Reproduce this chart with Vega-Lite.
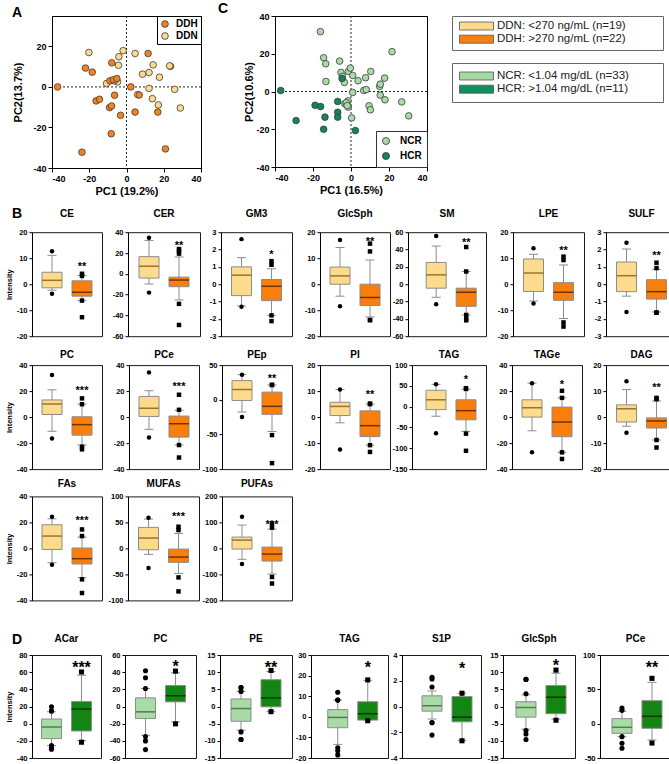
{
"$schema":"https://vega.github.io/schema/vega-lite/v6.json",
"background":"white",
"padding":{"left":3,"top":1,"right":0,"bottom":0},
"config":{
 "font":"Liberation Sans",
 "view":{"stroke":"#1a1a1a","strokeWidth":1},
 "axis":{"grid":false,"labelOverlap":false,"tickCount":20,"domainColor":"#000","tickColor":"#000","labelColor":"#000","titleColor":"#000","labelFontWeight":"bold","titleFontWeight":"bold","labelFontSize":7.5,"tickSize":3,"labelPadding":2,"domainWidth":1,"titleFontSize":7.5,"titlePadding":3},
 "title":{"fontSize":10,"fontWeight":"bold","color":"#000","offset":8},
 "legend":{"labelFont":"Liberation Sans"},
 "text":{"font":"Liberation Sans"}
},
"datasets":{
"sa":[
{"x":23.6,"y":10.2,"grp":"DDH"},
{"x":-20.2,"y":17.0,"grp":"DDN"},{"x":-1.8,"y":17.9,"grp":"DDN"},{"x":-4.1,"y":14.9,"grp":"DDN"},{"x":-4.3,"y":10.7,"grp":"DDN"},{"x":4.6,"y":16.5,"grp":"DDN"},{"x":-10.7,"y":1.7,"grp":"DDN"},{"x":-4.8,"y":2.5,"grp":"DDN"},{"x":8.6,"y":6.3,"grp":"DDN"},{"x":12.1,"y":7.1,"grp":"DDN"},{"x":14.3,"y":10.9,"grp":"DDN"},{"x":23.2,"y":10.4,"grp":"DDN"},{"x":17.7,"y":4.8,"grp":"DDN"},{"x":12.1,"y":-0.7,"grp":"DDN"},{"x":25.9,"y":-1.2,"grp":"DDN"},{"x":13.9,"y":-5.8,"grp":"DDN"},{"x":17.1,"y":-8.9,"grp":"DDN"},{"x":28.9,"y":-10.4,"grp":"DDN"},{"x":6.0,"y":-3.8,"grp":"DDN"},{"x":-6.5,"y":3.0,"grp":"DDN"},
{"x":-37,"y":0,"grp":"DDH"},{"x":-22,"y":9.3,"grp":"DDH"},{"x":-18.4,"y":7.3,"grp":"DDH"},{"x":-23.9,"y":-32.2,"grp":"DDH"},{"x":-16.3,"y":-6.9,"grp":"DDH"},{"x":-14.5,"y":-6.1,"grp":"DDH"},{"x":-7.9,"y":11.9,"grp":"DDH"},{"x":-8.9,"y":3.0,"grp":"DDH"},{"x":-7.1,"y":3.5,"grp":"DDH"},{"x":-5.2,"y":4.1,"grp":"DDH"},{"x":-6.4,"y":-4.1,"grp":"DDH"},{"x":-9.1,"y":-10.2,"grp":"DDH"},{"x":-8.0,"y":-9.4,"grp":"DDH"},{"x":-3.2,"y":-14.0,"grp":"DDH"},{"x":-8.2,"y":-23.1,"grp":"DDH"},{"x":2.3,"y":0,"grp":"DDH"},{"x":6.8,"y":-4.0,"grp":"DDH"},{"x":4.6,"y":-12.4,"grp":"DDH"},{"x":11.6,"y":16.5,"grp":"DDH"},{"x":16.8,"y":-12.4,"grp":"DDH"},{"x":20.9,"y":-30.6,"grp":"DDH"}
],
"sc":[
{"x":-16.1,"y":31.7,"grp":"NCR"},{"x":-14.4,"y":17.9,"grp":"NCR"},{"x":-13.3,"y":14.7,"grp":"NCR"},{"x":-13.2,"y":5.3,"grp":"NCR"},{"x":-6.0,"y":16.1,"grp":"NCR"},{"x":-5.3,"y":10.1,"grp":"NCR"},{"x":-3.5,"y":4.8,"grp":"NCR"},{"x":-1.4,"y":10.6,"grp":"NCR"},{"x":-0.35,"y":12.4,"grp":"NCR"},{"x":0.9,"y":8.5,"grp":"NCR"},{"x":3.7,"y":5.7,"grp":"NCR"},{"x":7.7,"y":7.3,"grp":"NCR"},{"x":10.4,"y":10.6,"grp":"NCR"},{"x":0.9,"y":-0.5,"grp":"NCR"},{"x":6.7,"y":0.5,"grp":"NCR"},{"x":-3.2,"y":-6.5,"grp":"NCR"},{"x":-1.6,"y":-5.0,"grp":"NCR"},{"x":-1.4,"y":-8.3,"grp":"NCR"},{"x":0.35,"y":-14.0,"grp":"NCR"},{"x":9.5,"y":-7.6,"grp":"NCR"},{"x":10.2,"y":-9.7,"grp":"NCR"},{"x":15.1,"y":2.7,"grp":"NCR"},{"x":15.4,"y":3.9,"grp":"NCR"},{"x":17.7,"y":7.1,"grp":"NCR"},{"x":15.4,"y":-1.9,"grp":"NCR"},{"x":17.9,"y":-4.4,"grp":"NCR"},{"x":21.6,"y":21.1,"grp":"NCR"},{"x":26.7,"y":-5.5,"grp":"NCR"},{"x":30.4,"y":-12.9,"grp":"NCR"},{"x":-2.5,"y":-6.0,"grp":"NCR"},{"x":-2.0,"y":-7.5,"grp":"NCR"},{"x":8.0,"y":1.0,"grp":"NCR"},{"x":-4.5,"y":8.0,"grp":"NCR"},
{"x":-37.0,"y":0.5,"grp":"HCR"},{"x":-28.9,"y":-15.4,"grp":"HCR"},{"x":-18.9,"y":-7.3,"grp":"HCR"},{"x":-16.0,"y":-8.0,"grp":"HCR"},{"x":-13.7,"y":-13.6,"grp":"HCR"},{"x":-14.4,"y":-20.0,"grp":"HCR"},{"x":-7.0,"y":-5.3,"grp":"HCR"},{"x":-7.0,"y":-11.0,"grp":"HCR"},{"x":-7.0,"y":-13.6,"grp":"HCR"},{"x":-4.7,"y":6.9,"grp":"HCR"},{"x":2.3,"y":-20.7,"grp":"HCR"}
],
"b":[
{"p":"CE","g":"N","lo":-2.3,"q1":-1.4,"md":1.5,"q3":4.6,"hi":11.1},
{"p":"CE","g":"H","lo":-6.3,"q1":-4.6,"md":-3.1,"q3":1.3,"hi":3.3,"s":"**","sy":8.1},
{"p":"CE","g":"N","v":12.7},{"p":"CE","g":"N","v":-3.7},{"p":"CE","g":"H","v":3.2},{"p":"CE","g":"H","v":4.0},{"p":"CE","g":"H","v":-6.3},{"p":"CE","g":"H","v":-12.7},
{"p":"CER","g":"N","lo":-9.8,"q1":-4.1,"md":7.3,"q3":16.5,"hi":32.1},
{"p":"CER","g":"H","lo":-25.1,"q1":-12.4,"md":-6.0,"q3":-3.2,"hi":16.2,"s":"**","sy":30.8},
{"p":"CER","g":"N","v":34.6},{"p":"CER","g":"N","v":-18.1},{"p":"CER","g":"H","v":23.8},{"p":"CER","g":"H","v":22.2},{"p":"CER","g":"H","v":19.4},{"p":"CER","g":"H","v":-28.9},{"p":"CER","g":"H","v":-49.2},
{"p":"GM3","g":"N","lo":-1.26,"q1":-0.66,"md":0.52,"q3":1.0,"hi":1.53},
{"p":"GM3","g":"H","lo":-1.8,"q1":-0.95,"md":-0.12,"q3":0.27,"hi":0.89,"s":"*","sy":1.93},
{"p":"GM3","g":"N","v":2.6},{"p":"GM3","g":"N","v":-1.3},{"p":"GM3","g":"H","v":1.33},{"p":"GM3","g":"H","v":1.12},{"p":"GM3","g":"H","v":-1.8},{"p":"GM3","g":"H","v":-2.13},
{"p":"GlcSph","g":"N","lo":-4.6,"q1":0,"md":3.2,"q3":6.6,"hi":14.1},
{"p":"GlcSph","g":"H","lo":-12.6,"q1":-8.2,"md":-5.1,"q3":0,"hi":9.3,"s":"**","sy":17.7},
{"p":"GlcSph","g":"N","v":17.0},{"p":"GlcSph","g":"N","v":-8.5},{"p":"GlcSph","g":"H","v":15.6},{"p":"GlcSph","g":"H","v":12.6},{"p":"GlcSph","g":"H","v":-13.8},{"p":"GlcSph","g":"H","v":-13.8},
{"p":"SM","g":"N","lo":-15.1,"q1":-4.6,"md":10.8,"q3":25.1,"hi":44.0},
{"p":"SM","g":"H","lo":-35.5,"q1":-25.5,"md":-9.3,"q3":-4.6,"hi":14.7,"s":"**","sy":52},
{"p":"SM","g":"N","v":55.6},{"p":"SM","g":"N","v":-23.2},{"p":"SM","g":"H","v":42.9},{"p":"SM","g":"H","v":14.7},{"p":"SM","g":"H","v":-35.5},{"p":"SM","g":"H","v":-39.8},{"p":"SM","g":"H","v":-41.7},
{"p":"LPE","g":"N","lo":-6.5,"q1":-2.8,"md":4.3,"q3":9.7,"hi":11.5},
{"p":"LPE","g":"H","lo":-13.2,"q1":-6.2,"md":-3.1,"q3":0.6,"hi":7.4,"s":"**","sy":14.3},
{"p":"LPE","g":"N","v":13.8},{"p":"LPE","g":"N","v":-7.4},{"p":"LPE","g":"H","v":10.6},{"p":"LPE","g":"H","v":9.3},{"p":"LPE","g":"H","v":-14.7},{"p":"LPE","g":"H","v":-16.3},
{"p":"SULF","g":"N","lo":-0.69,"q1":-0.43,"md":0.49,"q3":1.28,"hi":2.03},
{"p":"SULF","g":"H","lo":-1.6,"q1":-0.86,"md":-0.43,"q3":0.26,"hi":0.86,"s":"**","sy":1.87},
{"p":"SULF","g":"N","v":2.39},{"p":"SULF","g":"N","v":-1.6},{"p":"SULF","g":"H","v":1.24},{"p":"SULF","g":"H","v":0.93},{"p":"SULF","g":"H","v":-1.64},{"p":"SULF","g":"H","v":-1.64},
{"p":"PC","g":"N","lo":-10.9,"q1":2.0,"md":10.1,"q3":13.2,"hi":21.0},
{"p":"PC","g":"H","lo":-21.5,"q1":-13.9,"md":-5.8,"q3":0.25,"hi":9.9,"s":"***","sy":22.8},
{"p":"PC","g":"N","v":32.4},{"p":"PC","g":"N","v":-16.5},{"p":"PC","g":"H","v":14.4},{"p":"PC","g":"H","v":9.9},{"p":"PC","g":"H","v":-24.8},{"p":"PC","g":"H","v":-22.8},
{"p":"PCe","g":"N","lo":-9.4,"q1":0.5,"md":6.8,"q3":15.9,"hi":20.3},
{"p":"PCe","g":"H","lo":-21.5,"q1":-15.4,"md":-5.1,"q3":0.8,"hi":5.3,"s":"***","sy":26.6},
{"p":"PCe","g":"N","v":34.4},{"p":"PCe","g":"N","v":-15.7},{"p":"PCe","g":"H","v":17.2},{"p":"PCe","g":"H","v":5.6},{"p":"PCe","g":"H","v":-21.5},{"p":"PCe","g":"H","v":-31.1},
{"p":"PEp","g":"N","lo":-17.6,"q1":-1.0,"md":14.8,"q3":27.6,"hi":36.2},
{"p":"PEp","g":"H","lo":-45.7,"q1":-21.0,"md":-9.5,"q3":11.0,"hi":21.4,"s":"**","sy":36.2},
{"p":"PEp","g":"N","v":36.2},{"p":"PEp","g":"N","v":-24.8},{"p":"PEp","g":"H","v":21.4},{"p":"PEp","g":"H","v":21.4},{"p":"PEp","g":"H","v":-51},{"p":"PEp","g":"H","v":-91.4},
{"p":"PI","g":"N","lo":-2.2,"q1":0.6,"md":4.1,"q3":5.7,"hi":10.6},
{"p":"PI","g":"H","lo":-10.8,"q1":-7.5,"md":-3.3,"q3":2.4,"hi":5.0,"s":"**","sy":10.1},
{"p":"PI","g":"N","v":10.6},{"p":"PI","g":"N","v":-12.5},{"p":"PI","g":"H","v":5.0},{"p":"PI","g":"H","v":5.2},{"p":"PI","g":"H","v":-10.8},{"p":"PI","g":"H","v":-13.4},
{"p":"TAG","g":"N","lo":-22.9,"q1":-7.1,"md":16.6,"q3":39.5,"hi":53.8},
{"p":"TAG","g":"H","lo":-59.3,"q1":-31.6,"md":-9.5,"q3":16.6,"hi":41.9,"s":"*","sy":72.7},
{"p":"TAG","g":"N","v":53.8},{"p":"TAG","g":"N","v":-64},{"p":"TAG","g":"H","v":42.7},{"p":"TAG","g":"H","v":44.3},{"p":"TAG","g":"H","v":-64.8},{"p":"TAG","g":"H","v":-106},
{"p":"TAGe","g":"N","lo":-10.5,"q1":0,"md":7.2,"q3":13.3,"hi":26.1},
{"p":"TAGe","g":"H","lo":-27.1,"q1":-15.1,"md":-3.8,"q3":7.7,"hi":14.8,"s":"*","sy":27.9},
{"p":"TAGe","g":"N","v":26.1},{"p":"TAGe","g":"N","v":-27.1},{"p":"TAGe","g":"H","v":20.2},{"p":"TAGe","g":"H","v":14.8},{"p":"TAGe","g":"H","v":-27.1},{"p":"TAGe","g":"H","v":-32.2},
{"p":"DAG","g":"N","lo":-3.5,"q1":-1.9,"md":3.2,"q3":4.7,"hi":10.6},
{"p":"DAG","g":"H","lo":-8.8,"q1":-4.2,"md":-1.5,"q3":-0.3,"hi":6.2,"s":"**","sy":12.6},
{"p":"DAG","g":"N","v":13.8},{"p":"DAG","g":"N","v":-6.0},{"p":"DAG","g":"H","v":7.4},{"p":"DAG","g":"H","v":6.9},{"p":"DAG","g":"H","v":-8.8},{"p":"DAG","g":"H","v":-11.7},
{"p":"FAs","g":"N","lo":-11.0,"q1":-0.8,"md":9.5,"q3":18.2,"hi":22.8},
{"p":"FAs","g":"H","lo":-22.5,"q1":-12.0,"md":-7.9,"q3":0.3,"hi":8.7,"s":"***","sy":23.8},
{"p":"FAs","g":"N","v":24.3},{"p":"FAs","g":"N","v":-12.5},{"p":"FAs","g":"H","v":14.6},{"p":"FAs","g":"H","v":9.5},{"p":"FAs","g":"H","v":-23.8},{"p":"FAs","g":"H","v":-34.3},
{"p":"MUFAs","g":"N","lo":-11.5,"q1":-2.6,"md":19.9,"q3":40.4,"hi":56.4},
{"p":"MUFAs","g":"H","lo":-48.1,"q1":-26.9,"md":-16.7,"q3":-1.3,"hi":28.8,"s":"***","sy":67.3},
{"p":"MUFAs","g":"N","v":59},{"p":"MUFAs","g":"N","v":-37.8},{"p":"MUFAs","g":"H","v":41.7},{"p":"MUFAs","g":"H","v":35.3},{"p":"MUFAs","g":"H","v":-55.8},{"p":"MUFAs","g":"H","v":-82.7},
{"p":"PUFAs","g":"N","lo":-42,"q1":-2.6,"md":32,"q3":43.6,"hi":89.7},
{"p":"PUFAs","g":"H","lo":-98.7,"q1":-48.7,"md":-21.8,"q3":5,"hi":74,"s":"***","sy":105},
{"p":"PUFAs","g":"N","v":121.8},{"p":"PUFAs","g":"N","v":-60},{"p":"PUFAs","g":"H","v":95},{"p":"PUFAs","g":"H","v":80},{"p":"PUFAs","g":"H","v":-110},{"p":"PUFAs","g":"H","v":-135}
],
"d":[
{"p":"ACar","g":"N","lo":-25.5,"q1":-17.4,"md":-3.9,"q3":5.4,"hi":13.9},
{"p":"ACar","g":"H","lo":-19.7,"q1":-8.5,"md":17.0,"q3":25.9,"hi":56.4,"s":"***","sy":72},
{"p":"ACar","g":"N","v":19.7},{"p":"ACar","g":"N","v":14.7},{"p":"ACar","g":"N","v":14.7},{"p":"ACar","g":"N","v":-25.5},{"p":"ACar","g":"N","v":-29.7},{"p":"ACar","g":"N","v":-27.8},{"p":"ACar","g":"H","v":60.2},{"p":"ACar","g":"H","v":-21.6},
{"p":"PC","g":"N","lo":-33.5,"q1":-14.0,"md":-6.2,"q3":10.1,"hi":21.0},
{"p":"PC","g":"H","lo":-17.9,"q1":5.4,"md":12.5,"q3":24.5,"hi":39.3,"s":"*","sy":52.9},
{"p":"PC","g":"N","v":41.6},{"p":"PC","g":"N","v":33.5},{"p":"PC","g":"N","v":21.0},{"p":"PC","g":"N","v":-35.0},{"p":"PC","g":"N","v":-40.1},{"p":"PC","g":"N","v":-50.2},{"p":"PC","g":"H","v":41.2},{"p":"PC","g":"H","v":-20.2},
{"p":"PE","g":"N","lo":-6.9,"q1":-4.3,"md":-0.6,"q3":2.2,"hi":4.4},
{"p":"PE","g":"H","lo":-1.5,"q1":-0.1,"md":2.5,"q3":7.8,"hi":10.2,"s":"**","sy":13},
{"p":"PE","g":"N","v":5.5},{"p":"PE","g":"N","v":5.5},{"p":"PE","g":"N","v":4.4},{"p":"PE","g":"N","v":-7.4},{"p":"PE","g":"N","v":-9.6},{"p":"PE","g":"N","v":-9.6},{"p":"PE","g":"H","v":10.5},{"p":"PE","g":"H","v":-1.5},
{"p":"TAG","g":"N","lo":-13.4,"q1":-5.3,"md":-0.3,"q3":3.5,"hi":8.1},
{"p":"TAG","g":"H","lo":-1.6,"q1":-1.6,"md":1.5,"q3":7.3,"hi":17.7,"s":"*","sy":26.6},
{"p":"TAG","g":"N","v":11.9},{"p":"TAG","g":"N","v":8.1},{"p":"TAG","g":"N","v":8.1},{"p":"TAG","g":"N","v":-15},{"p":"TAG","g":"N","v":-16.5},{"p":"TAG","g":"N","v":-18.5},{"p":"TAG","g":"H","v":17.9},{"p":"TAG","g":"H","v":-1.9},
{"p":"S1P","g":"N","lo":-0.98,"q1":-0.36,"md":0.05,"q3":0.83,"hi":1.21},
{"p":"S1P","g":"H","lo":-2.63,"q1":-1.19,"md":-0.83,"q3":0.77,"hi":1.03,"s":"*","sy":3.4},
{"p":"S1P","g":"N","v":2.27},{"p":"S1P","g":"N","v":2.14},{"p":"S1P","g":"N","v":1.52},{"p":"S1P","g":"N","v":-1.24},{"p":"S1P","g":"N","v":-1.26},{"p":"S1P","g":"N","v":-2.22},{"p":"S1P","g":"H","v":1.03},{"p":"S1P","g":"H","v":-2.66},
{"p":"GlcSph","g":"N","lo":-6.6,"q1":-3.1,"md":-0.3,"q3":1.4,"hi":3.4},
{"p":"GlcSph","g":"H","lo":-3.7,"q1":-2.1,"md":2.7,"q3":6.1,"hi":9.7,"s":"*","sy":13.4},
{"p":"GlcSph","g":"N","v":7.9},{"p":"GlcSph","g":"N","v":7.9},{"p":"GlcSph","g":"N","v":3.7},{"p":"GlcSph","g":"N","v":-7.0},{"p":"GlcSph","g":"N","v":-8.0},{"p":"GlcSph","g":"N","v":-9.6},{"p":"GlcSph","g":"H","v":10.6},{"p":"GlcSph","g":"H","v":-4.0},
{"p":"PCe","g":"N","lo":-18.9,"q1":-14.1,"md":-5.3,"q3":7.3,"hi":18.0},
{"p":"PCe","g":"H","lo":-23.8,"q1":-6.8,"md":10.7,"q3":33.5,"hi":60.2,"s":"**","sy":90.3},
{"p":"PCe","g":"N","v":22.8},{"p":"PCe","g":"N","v":19.4},{"p":"PCe","g":"N","v":-18.9},{"p":"PCe","g":"N","v":-28.6},{"p":"PCe","g":"N","v":-35.9},{"p":"PCe","g":"H","v":66.0},{"p":"PCe","g":"H","v":-28.2}
]
},
"spacing":27,
"resolve":{"scale":{"color":"independent","fill":"independent","shape":"independent"},"legend":{"color":"independent","fill":"independent","shape":"independent"}},
"vconcat":[
{"spacing":10.2,"resolve":{"scale":{"color":"independent","fill":"independent","shape":"independent"},"legend":{"color":"independent","fill":"independent","shape":"independent"}},
"vconcat":[
{"spacing":0,"resolve":{"scale":{"color":"independent","fill":"independent","shape":"independent"},"legend":{"color":"independent","fill":"independent","shape":"independent"}},
"hconcat":[
{"width":8,"height":1,"view":{"stroke":null},"data":{"values":[{}]},"transform":[{"filter":"false"}],"mark":{"type":"point","opacity":0}},
{"spacing":15,"resolve":{"scale":{"color":"independent","fill":"independent","shape":"independent"},"legend":{"color":"independent","fill":"independent","shape":"independent"}},
"hconcat":[
{"width":149,"height":152,"view":{"stroke":"#000"},
"title":{"text":"A","anchor":"start","frame":"bounds","fontSize":14,"offset":-4},
"layer":[
{"data":{"values":[{}]},"mark":{"type":"rule","strokeDash":[2,2],"color":"#222","strokeWidth":1},"encoding":{"y":{"datum":0}}},
{"data":{"values":[{}]},"mark":{"type":"rule","strokeDash":[2,2],"color":"#222","strokeWidth":1},"encoding":{"x":{"datum":0}}},
{"data":{"name":"sa"},"mark":{"type":"point","filled":true,"size":44,"stroke":"#3a3a3a","strokeWidth":0.8,"opacity":1},
"encoding":{
"x":{"field":"x","type":"quantitative","scale":{"domain":[-40,40],"nice":false,"zero":false},"axis":{"title":"PC1 (19.2%)","values":[-40,-20,0,20,40],"tickCount":20,"labelExpr":"'' + datum.value","labelOverlap":false,"labelFontSize":9,"titleFontSize":11,"tickSize":4,"titlePadding":2,"labelPadding":2}},
"y":{"field":"y","type":"quantitative","scale":{"domain":[-40,35],"nice":false,"zero":false},"axis":{"title":"PC2(13.7%)","values":[-40,-20,0,20],"tickCount":20,"labelExpr":"'' + datum.value","labelOverlap":false,"labelFontSize":9,"titleFontSize":11,"tickSize":4,"labelPadding":2,"minExtent":19,"maxExtent":19,"titlePadding":10}},
"fill":{"field":"grp","type":"nominal","scale":{"domain":["DDH","DDN"],"range":["#F5821F","#FDDB8A"]},
"legend":{"orient":"top-right","offset":0,"title":null,"strokeColor":"#000","padding":3,"rowPadding":2,"symbolType":"circle","symbolSize":45,"symbolStrokeColor":"#333","symbolStrokeWidth":0.8,"symbolOpacity":1,"labelFontSize":10,"labelFontWeight":"bold","labelOffset":6,"labelColor":"#000"}}}}
]},
{"spacing":23,"resolve":{"scale":{"color":"independent","fill":"independent","shape":"independent"},"legend":{"color":"independent","fill":"independent","shape":"independent"}},
"hconcat":[
{"width":152,"height":151,"view":{"stroke":"#000"},
"title":{"text":"C","anchor":"start","frame":"bounds","fontSize":14,"offset":-4,"dx":-25},
"layer":[
{"data":{"values":[{}]},"mark":{"type":"rule","strokeDash":[2,2],"color":"#222","strokeWidth":1},"encoding":{"y":{"datum":0}}},
{"data":{"values":[{}]},"mark":{"type":"rule","strokeDash":[2,2],"color":"#222","strokeWidth":1},"encoding":{"x":{"datum":0}}},
{"data":{"name":"sc"},"mark":{"type":"point","filled":true,"size":44,"stroke":"#3a3a3a","strokeWidth":0.8,"opacity":1},
"encoding":{
"x":{"field":"x","type":"quantitative","scale":{"domain":[-40,40],"nice":false,"zero":false},"axis":{"title":"PC1 (16.5%)","values":[-40,-20,0,20,40],"tickCount":20,"labelExpr":"'' + datum.value","labelOverlap":false,"labelFontSize":9,"titleFontSize":11,"tickSize":4,"titlePadding":2,"labelPadding":2}},
"y":{"field":"y","type":"quantitative","scale":{"domain":[-40,40],"nice":false,"zero":false},"axis":{"title":"PC2(10.6%)","values":[-40,-20,0,20,40],"tickCount":20,"labelExpr":"'' + datum.value","labelOverlap":false,"labelFontSize":9,"titleFontSize":11,"tickSize":4,"labelPadding":2,"minExtent":19,"maxExtent":19,"titlePadding":2}},
"fill":{"field":"grp","type":"nominal","scale":{"domain":["NCR","HCR"],"range":["#A8DBA6","#10865A"]},
"legend":{"orient":"bottom-right","offset":0,"title":null,"strokeColor":"#333","padding":5,"rowPadding":3,"symbolType":"circle","symbolSize":50,"symbolStrokeColor":"#333","symbolStrokeWidth":0.8,"symbolOpacity":1,"labelFontSize":10,"labelFontWeight":"bold","labelOffset":9,"labelColor":"#000"}}}}
]},
{"spacing":11,"resolve":{"scale":{"color":"independent","fill":"independent","shape":"independent"},"legend":{"color":"independent","fill":"independent","shape":"independent"}},
"vconcat":[
{"width":211,"height":34,"view":{"stroke":"#666","strokeWidth":1},
"data":{"values":[{"k1":"a"}]},"transform":[{"filter":"false"}],
"mark":{"type":"point","filled":true,"opacity":1},
"encoding":{"fill":{"field":"k1","type":"nominal","scale":{"domain":["DDN: <270 ng/mL (n=19)","DDH: >270 ng/mL (n=22)"],"range":["#FDDB8A","#F98010"]},
"legend":{"orient":"none","legendX":7,"legendY":4,"title":null,"symbolType":"M-1,-0.727H5.18V0.727H-1Z","symbolSize":121,"symbolStrokeColor":"#555","symbolStrokeWidth":0.8,"symbolOpacity":1,"labelFontSize":11.5,"labelColor":"#222","labelLimit":400,"labelOffset":26,"padding":0,"rowPadding":1.2}}}},
{"width":211,"height":39,"view":{"stroke":"#666","strokeWidth":1},
"data":{"values":[{"k2":"b"}]},"transform":[{"filter":"false"}],
"mark":{"type":"point","filled":true,"opacity":1},
"encoding":{"fill":{"field":"k2","type":"nominal","scale":{"domain":["NCR: <1.04 mg/dL (n=33)","HCR: >1.04 mg/dL (n=11)"],"range":["#A6D9A4","#11905E"]},
"legend":{"orient":"none","legendX":7,"legendY":7,"title":null,"symbolType":"M-1,-0.727H5.18V0.727H-1Z","symbolSize":121,"symbolStrokeColor":"#555","symbolStrokeWidth":0.8,"symbolOpacity":1,"labelFontSize":11.5,"labelColor":"#222","labelLimit":400,"labelOffset":26,"padding":0,"rowPadding":1.2}}}}
]}
]}
]}
]},
{"spacing":8.9,"resolve":{"scale":{"color":"independent","fill":"independent","shape":"independent"},"legend":{"color":"independent","fill":"independent","shape":"independent"}},
"vconcat":[
{"spacing":0,"title":{"text":"B","anchor":"start","frame":"bounds","fontSize":14,"offset":-13,"dx":9},
"hconcat":[
{"width":1,"height":1,"view":{"stroke":null},"data":{"values":[{}]},"transform":[{"filter":"false"}],"mark":{"type":"point","opacity":0}},
{"width":70,"height":104,"title":{"text":"CE","offset":9.5},"data":{"name":"b"},"transform":[{"filter":"datum.p==='CE'"}],"encoding":{"x":{"field":"g","type":"nominal","sort":["N","H"],"axis":null,"scale":{"paddingInner":0.3333,"paddingOuter":0.3333,"align":0.5}}},"layer":[
{"transform":[{"filter":"datum.lo!=null"}],"layer":[
{"mark":{"type":"rule","color":"#8c8c8c"},"encoding":{"y":{"field":"lo","type":"quantitative","scale":{"domain":[-20,20],"nice":false,"zero":false},"axis":{"title":"Intensity","values":[-20,-10,0,10,20],"tickCount":20,"labelExpr":"'' + datum.value","labelOverlap":false,"minExtent":16,"maxExtent":16}},"y2":{"field":"hi"}}},
{"mark":{"type":"tick","color":"#8c8c8c","size":9,"opacity":1},"encoding":{"y":{"field":"lo","type":"quantitative"}}},
{"mark":{"type":"tick","color":"#8c8c8c","size":9,"opacity":1},"encoding":{"y":{"field":"hi","type":"quantitative"}}},
{"mark":{"type":"bar","stroke":"#8c8c8c","strokeWidth":1},"encoding":{"y":{"field":"q1","type":"quantitative"},"y2":{"field":"q3"},"fill":{"field":"g","type":"nominal","scale":{"domain":["N","H"],"range":["#FDDB8C","#FA7E0B"]},"legend":null}}},
{"mark":{"type":"tick","size":20,"thickness":1.5,"opacity":1},"encoding":{"y":{"field":"md","type":"quantitative"},"color":{"field":"g","type":"nominal","scale":{"domain":["N","H"],"range":["#9A7530","#6E3503"]},"legend":null}}}]},
{"transform":[{"filter":"datum.v!=null"}],"mark":{"type":"point","filled":true,"size":20,"color":"#000","opacity":1},"encoding":{"y":{"field":"v","type":"quantitative"},"shape":{"field":"g","type":"nominal","scale":{"domain":["N","H"],"range":["circle","square"]},"legend":null}}},
{"transform":[{"filter":"datum.s!=null"}],"mark":{"type":"text","fontSize":11,"fontWeight":"bold","dy":4},"encoding":{"y":{"field":"sy","type":"quantitative"},"text":{"field":"s"}}}]},
{"width":72,"height":104,"title":{"text":"CER","offset":9.5},"data":{"name":"b"},"transform":[{"filter":"datum.p==='CER'"}],"encoding":{"x":{"field":"g","type":"nominal","sort":["N","H"],"axis":null,"scale":{"paddingInner":0.3333,"paddingOuter":0.3667,"align":0.5}}},"layer":[
{"transform":[{"filter":"datum.lo!=null"}],"layer":[
{"mark":{"type":"rule","color":"#8c8c8c"},"encoding":{"y":{"field":"lo","type":"quantitative","scale":{"domain":[-60,40],"nice":false,"zero":false},"axis":{"title":null,"values":[-60,-40,-20,0,20,40],"tickCount":20,"labelExpr":"'' + datum.value","labelOverlap":false,"minExtent":24}},"y2":{"field":"hi"}}},
{"mark":{"type":"tick","color":"#8c8c8c","size":9,"opacity":1},"encoding":{"y":{"field":"lo","type":"quantitative"}}},
{"mark":{"type":"tick","color":"#8c8c8c","size":9,"opacity":1},"encoding":{"y":{"field":"hi","type":"quantitative"}}},
{"mark":{"type":"bar","stroke":"#8c8c8c","strokeWidth":1},"encoding":{"y":{"field":"q1","type":"quantitative"},"y2":{"field":"q3"},"fill":{"field":"g","type":"nominal","scale":{"domain":["N","H"],"range":["#FDDB8C","#FA7E0B"]},"legend":null}}},
{"mark":{"type":"tick","size":20,"thickness":1.5,"opacity":1},"encoding":{"y":{"field":"md","type":"quantitative"},"color":{"field":"g","type":"nominal","scale":{"domain":["N","H"],"range":["#9A7530","#6E3503"]},"legend":null}}}]},
{"transform":[{"filter":"datum.v!=null"}],"mark":{"type":"point","filled":true,"size":20,"color":"#000","opacity":1},"encoding":{"y":{"field":"v","type":"quantitative"},"shape":{"field":"g","type":"nominal","scale":{"domain":["N","H"],"range":["circle","square"]},"legend":null}}},
{"transform":[{"filter":"datum.s!=null"}],"mark":{"type":"text","fontSize":11,"fontWeight":"bold","dy":4},"encoding":{"y":{"field":"sy","type":"quantitative"},"text":{"field":"s"}}}]},
{"width":71,"height":104,"title":{"text":"GM3","offset":9.5},"data":{"name":"b"},"transform":[{"filter":"datum.p==='GM3'"}],"encoding":{"x":{"field":"g","type":"nominal","sort":["N","H"],"axis":null,"scale":{"paddingInner":0.3333,"paddingOuter":0.35,"align":0.5}}},"layer":[
{"transform":[{"filter":"datum.lo!=null"}],"layer":[
{"mark":{"type":"rule","color":"#8c8c8c"},"encoding":{"y":{"field":"lo","type":"quantitative","scale":{"domain":[-3,3],"nice":false,"zero":false},"axis":{"title":null,"values":[-3,-2,-1,0,1,2,3],"tickCount":20,"labelExpr":"'' + datum.value","labelOverlap":false,"minExtent":19}},"y2":{"field":"hi"}}},
{"mark":{"type":"tick","color":"#8c8c8c","size":9,"opacity":1},"encoding":{"y":{"field":"lo","type":"quantitative"}}},
{"mark":{"type":"tick","color":"#8c8c8c","size":9,"opacity":1},"encoding":{"y":{"field":"hi","type":"quantitative"}}},
{"mark":{"type":"bar","stroke":"#8c8c8c","strokeWidth":1},"encoding":{"y":{"field":"q1","type":"quantitative"},"y2":{"field":"q3"},"fill":{"field":"g","type":"nominal","scale":{"domain":["N","H"],"range":["#FDDB8C","#FA7E0B"]},"legend":null}}},
{"mark":{"type":"tick","size":20,"thickness":1.5,"opacity":1},"encoding":{"y":{"field":"md","type":"quantitative"},"color":{"field":"g","type":"nominal","scale":{"domain":["N","H"],"range":["#9A7530","#6E3503"]},"legend":null}}}]},
{"transform":[{"filter":"datum.v!=null"}],"mark":{"type":"point","filled":true,"size":20,"color":"#000","opacity":1},"encoding":{"y":{"field":"v","type":"quantitative"},"shape":{"field":"g","type":"nominal","scale":{"domain":["N","H"],"range":["circle","square"]},"legend":null}}},
{"transform":[{"filter":"datum.s!=null"}],"mark":{"type":"text","fontSize":11,"fontWeight":"bold","dy":4},"encoding":{"y":{"field":"sy","type":"quantitative"},"text":{"field":"s"}}}]},
{"width":70,"height":104,"title":{"text":"GlcSph","offset":9.5},"data":{"name":"b"},"transform":[{"filter":"datum.p==='GlcSph'"}],"encoding":{"x":{"field":"g","type":"nominal","sort":["N","H"],"axis":null,"scale":{"paddingInner":0.3333,"paddingOuter":0.3333,"align":0.5}}},"layer":[
{"transform":[{"filter":"datum.lo!=null"}],"layer":[
{"mark":{"type":"rule","color":"#8c8c8c"},"encoding":{"y":{"field":"lo","type":"quantitative","scale":{"domain":[-20,20],"nice":false,"zero":false},"axis":{"title":null,"values":[-20,-10,0,10,20],"tickCount":20,"labelExpr":"'' + datum.value","labelOverlap":false,"minExtent":26}},"y2":{"field":"hi"}}},
{"mark":{"type":"tick","color":"#8c8c8c","size":9,"opacity":1},"encoding":{"y":{"field":"lo","type":"quantitative"}}},
{"mark":{"type":"tick","color":"#8c8c8c","size":9,"opacity":1},"encoding":{"y":{"field":"hi","type":"quantitative"}}},
{"mark":{"type":"bar","stroke":"#8c8c8c","strokeWidth":1},"encoding":{"y":{"field":"q1","type":"quantitative"},"y2":{"field":"q3"},"fill":{"field":"g","type":"nominal","scale":{"domain":["N","H"],"range":["#FDDB8C","#FA7E0B"]},"legend":null}}},
{"mark":{"type":"tick","size":20,"thickness":1.5,"opacity":1},"encoding":{"y":{"field":"md","type":"quantitative"},"color":{"field":"g","type":"nominal","scale":{"domain":["N","H"],"range":["#9A7530","#6E3503"]},"legend":null}}}]},
{"transform":[{"filter":"datum.v!=null"}],"mark":{"type":"point","filled":true,"size":20,"color":"#000","opacity":1},"encoding":{"y":{"field":"v","type":"quantitative"},"shape":{"field":"g","type":"nominal","scale":{"domain":["N","H"],"range":["circle","square"]},"legend":null}}},
{"transform":[{"filter":"datum.s!=null"}],"mark":{"type":"text","fontSize":11,"fontWeight":"bold","dy":4},"encoding":{"y":{"field":"sy","type":"quantitative"},"text":{"field":"s"}}}]},
{"width":78,"height":104,"title":{"text":"SM","offset":9.5},"data":{"name":"b"},"transform":[{"filter":"datum.p==='SM'"}],"encoding":{"x":{"field":"g","type":"nominal","sort":["N","H"],"axis":null,"scale":{"paddingInner":0.3333,"paddingOuter":0.4667,"align":0.65}}},"layer":[
{"transform":[{"filter":"datum.lo!=null"}],"layer":[
{"mark":{"type":"rule","color":"#8c8c8c"},"encoding":{"y":{"field":"lo","type":"quantitative","scale":{"domain":[-60,60],"nice":false,"zero":false},"axis":{"title":null,"values":[-60,-40,-20,0,20,40,60],"tickCount":20,"labelExpr":"'' + datum.value","labelOverlap":false,"minExtent":13}},"y2":{"field":"hi"}}},
{"mark":{"type":"tick","color":"#8c8c8c","size":9,"opacity":1},"encoding":{"y":{"field":"lo","type":"quantitative"}}},
{"mark":{"type":"tick","color":"#8c8c8c","size":9,"opacity":1},"encoding":{"y":{"field":"hi","type":"quantitative"}}},
{"mark":{"type":"bar","stroke":"#8c8c8c","strokeWidth":1},"encoding":{"y":{"field":"q1","type":"quantitative"},"y2":{"field":"q3"},"fill":{"field":"g","type":"nominal","scale":{"domain":["N","H"],"range":["#FDDB8C","#FA7E0B"]},"legend":null}}},
{"mark":{"type":"tick","size":20,"thickness":1.5,"opacity":1},"encoding":{"y":{"field":"md","type":"quantitative"},"color":{"field":"g","type":"nominal","scale":{"domain":["N","H"],"range":["#9A7530","#6E3503"]},"legend":null}}}]},
{"transform":[{"filter":"datum.v!=null"}],"mark":{"type":"point","filled":true,"size":20,"color":"#000","opacity":1},"encoding":{"y":{"field":"v","type":"quantitative"},"shape":{"field":"g","type":"nominal","scale":{"domain":["N","H"],"range":["circle","square"]},"legend":null}}},
{"transform":[{"filter":"datum.s!=null"}],"mark":{"type":"text","fontSize":11,"fontWeight":"bold","dy":4},"encoding":{"y":{"field":"sy","type":"quantitative"},"text":{"field":"s"}}}]},
{"width":71,"height":104,"title":{"text":"LPE","offset":9.5},"data":{"name":"b"},"transform":[{"filter":"datum.p==='LPE'"}],"encoding":{"x":{"field":"g","type":"nominal","sort":["N","H"],"axis":null,"scale":{"paddingInner":0.3333,"paddingOuter":0.35,"align":0.5}}},"layer":[
{"transform":[{"filter":"datum.lo!=null"}],"layer":[
{"mark":{"type":"rule","color":"#8c8c8c"},"encoding":{"y":{"field":"lo","type":"quantitative","scale":{"domain":[-20,20],"nice":false,"zero":false},"axis":{"title":null,"values":[-20,-10,0,10,20],"tickCount":20,"labelExpr":"'' + datum.value","labelOverlap":false,"minExtent":25}},"y2":{"field":"hi"}}},
{"mark":{"type":"tick","color":"#8c8c8c","size":9,"opacity":1},"encoding":{"y":{"field":"lo","type":"quantitative"}}},
{"mark":{"type":"tick","color":"#8c8c8c","size":9,"opacity":1},"encoding":{"y":{"field":"hi","type":"quantitative"}}},
{"mark":{"type":"bar","stroke":"#8c8c8c","strokeWidth":1},"encoding":{"y":{"field":"q1","type":"quantitative"},"y2":{"field":"q3"},"fill":{"field":"g","type":"nominal","scale":{"domain":["N","H"],"range":["#FDDB8C","#FA7E0B"]},"legend":null}}},
{"mark":{"type":"tick","size":20,"thickness":1.5,"opacity":1},"encoding":{"y":{"field":"md","type":"quantitative"},"color":{"field":"g","type":"nominal","scale":{"domain":["N","H"],"range":["#9A7530","#6E3503"]},"legend":null}}}]},
{"transform":[{"filter":"datum.v!=null"}],"mark":{"type":"point","filled":true,"size":20,"color":"#000","opacity":1},"encoding":{"y":{"field":"v","type":"quantitative"},"shape":{"field":"g","type":"nominal","scale":{"domain":["N","H"],"range":["circle","square"]},"legend":null}}},
{"transform":[{"filter":"datum.s!=null"}],"mark":{"type":"text","fontSize":11,"fontWeight":"bold","dy":4},"encoding":{"y":{"field":"sy","type":"quantitative"},"text":{"field":"s"}}}]},
{"width":71,"height":104,"title":{"text":"SULF","offset":9.5},"data":{"name":"b"},"transform":[{"filter":"datum.p==='SULF'"}],"encoding":{"x":{"field":"g","type":"nominal","sort":["N","H"],"axis":null,"scale":{"paddingInner":0.3333,"paddingOuter":0.35,"align":0.5}}},"layer":[
{"transform":[{"filter":"datum.lo!=null"}],"layer":[
{"mark":{"type":"rule","color":"#8c8c8c"},"encoding":{"y":{"field":"lo","type":"quantitative","scale":{"domain":[-3,3],"nice":false,"zero":false},"axis":{"title":null,"values":[-3,-2,-1,0,1,2,3],"tickCount":20,"labelExpr":"'' + datum.value","labelOverlap":false,"minExtent":20}},"y2":{"field":"hi"}}},
{"mark":{"type":"tick","color":"#8c8c8c","size":9,"opacity":1},"encoding":{"y":{"field":"lo","type":"quantitative"}}},
{"mark":{"type":"tick","color":"#8c8c8c","size":9,"opacity":1},"encoding":{"y":{"field":"hi","type":"quantitative"}}},
{"mark":{"type":"bar","stroke":"#8c8c8c","strokeWidth":1},"encoding":{"y":{"field":"q1","type":"quantitative"},"y2":{"field":"q3"},"fill":{"field":"g","type":"nominal","scale":{"domain":["N","H"],"range":["#FDDB8C","#FA7E0B"]},"legend":null}}},
{"mark":{"type":"tick","size":20,"thickness":1.5,"opacity":1},"encoding":{"y":{"field":"md","type":"quantitative"},"color":{"field":"g","type":"nominal","scale":{"domain":["N","H"],"range":["#9A7530","#6E3503"]},"legend":null}}}]},
{"transform":[{"filter":"datum.v!=null"}],"mark":{"type":"point","filled":true,"size":20,"color":"#000","opacity":1},"encoding":{"y":{"field":"v","type":"quantitative"},"shape":{"field":"g","type":"nominal","scale":{"domain":["N","H"],"range":["circle","square"]},"legend":null}}},
{"transform":[{"filter":"datum.s!=null"}],"mark":{"type":"text","fontSize":11,"fontWeight":"bold","dy":4},"encoding":{"y":{"field":"sy","type":"quantitative"},"text":{"field":"s"}}}]}
]},
{"spacing":5.3,
"vconcat":[
{"spacing":0,
"hconcat":[
{"width":1,"height":1,"view":{"stroke":null},"data":{"values":[{}]},"transform":[{"filter":"false"}],"mark":{"type":"point","opacity":0}},
{"width":70,"height":104,"title":{"text":"PC","offset":1},"data":{"name":"b"},"transform":[{"filter":"datum.p==='PC'"}],"encoding":{"x":{"field":"g","type":"nominal","sort":["N","H"],"axis":null,"scale":{"paddingInner":0.3333,"paddingOuter":0.3333,"align":0.5}}},"layer":[
{"transform":[{"filter":"datum.lo!=null"}],"layer":[
{"mark":{"type":"rule","color":"#8c8c8c"},"encoding":{"y":{"field":"lo","type":"quantitative","scale":{"domain":[-40,40],"nice":false,"zero":false},"axis":{"title":"Intensity","values":[-40,-20,0,20,40],"tickCount":20,"labelExpr":"'' + datum.value","labelOverlap":false,"minExtent":16,"maxExtent":16}},"y2":{"field":"hi"}}},
{"mark":{"type":"tick","color":"#8c8c8c","size":9,"opacity":1},"encoding":{"y":{"field":"lo","type":"quantitative"}}},
{"mark":{"type":"tick","color":"#8c8c8c","size":9,"opacity":1},"encoding":{"y":{"field":"hi","type":"quantitative"}}},
{"mark":{"type":"bar","stroke":"#8c8c8c","strokeWidth":1},"encoding":{"y":{"field":"q1","type":"quantitative"},"y2":{"field":"q3"},"fill":{"field":"g","type":"nominal","scale":{"domain":["N","H"],"range":["#FDDB8C","#FA7E0B"]},"legend":null}}},
{"mark":{"type":"tick","size":20,"thickness":1.5,"opacity":1},"encoding":{"y":{"field":"md","type":"quantitative"},"color":{"field":"g","type":"nominal","scale":{"domain":["N","H"],"range":["#9A7530","#6E3503"]},"legend":null}}}]},
{"transform":[{"filter":"datum.v!=null"}],"mark":{"type":"point","filled":true,"size":20,"color":"#000","opacity":1},"encoding":{"y":{"field":"v","type":"quantitative"},"shape":{"field":"g","type":"nominal","scale":{"domain":["N","H"],"range":["circle","square"]},"legend":null}}},
{"transform":[{"filter":"datum.s!=null"}],"mark":{"type":"text","fontSize":11,"fontWeight":"bold","dy":4},"encoding":{"y":{"field":"sy","type":"quantitative"},"text":{"field":"s"}}}]},
{"width":70,"height":104,"title":{"text":"PCe","offset":1},"data":{"name":"b"},"transform":[{"filter":"datum.p==='PCe'"}],"encoding":{"x":{"field":"g","type":"nominal","sort":["N","H"],"axis":null,"scale":{"paddingInner":0.3333,"paddingOuter":0.3333,"align":0.5}}},"layer":[
{"transform":[{"filter":"datum.lo!=null"}],"layer":[
{"mark":{"type":"rule","color":"#8c8c8c"},"encoding":{"y":{"field":"lo","type":"quantitative","scale":{"domain":[-40,40],"nice":false,"zero":false},"axis":{"title":null,"values":[-40,-20,0,20,40],"tickCount":20,"labelExpr":"'' + datum.value","labelOverlap":false,"minExtent":25}},"y2":{"field":"hi"}}},
{"mark":{"type":"tick","color":"#8c8c8c","size":9,"opacity":1},"encoding":{"y":{"field":"lo","type":"quantitative"}}},
{"mark":{"type":"tick","color":"#8c8c8c","size":9,"opacity":1},"encoding":{"y":{"field":"hi","type":"quantitative"}}},
{"mark":{"type":"bar","stroke":"#8c8c8c","strokeWidth":1},"encoding":{"y":{"field":"q1","type":"quantitative"},"y2":{"field":"q3"},"fill":{"field":"g","type":"nominal","scale":{"domain":["N","H"],"range":["#FDDB8C","#FA7E0B"]},"legend":null}}},
{"mark":{"type":"tick","size":20,"thickness":1.5,"opacity":1},"encoding":{"y":{"field":"md","type":"quantitative"},"color":{"field":"g","type":"nominal","scale":{"domain":["N","H"],"range":["#9A7530","#6E3503"]},"legend":null}}}]},
{"transform":[{"filter":"datum.v!=null"}],"mark":{"type":"point","filled":true,"size":20,"color":"#000","opacity":1},"encoding":{"y":{"field":"v","type":"quantitative"},"shape":{"field":"g","type":"nominal","scale":{"domain":["N","H"],"range":["circle","square"]},"legend":null}}},
{"transform":[{"filter":"datum.s!=null"}],"mark":{"type":"text","fontSize":11,"fontWeight":"bold","dy":4},"encoding":{"y":{"field":"sy","type":"quantitative"},"text":{"field":"s"}}}]},
{"width":70,"height":104,"title":{"text":"PEp","offset":1},"data":{"name":"b"},"transform":[{"filter":"datum.p==='PEp'"}],"encoding":{"x":{"field":"g","type":"nominal","sort":["N","H"],"axis":null,"scale":{"paddingInner":0.3333,"paddingOuter":0.3333,"align":0.5}}},"layer":[
{"transform":[{"filter":"datum.lo!=null"}],"layer":[
{"mark":{"type":"rule","color":"#8c8c8c"},"encoding":{"y":{"field":"lo","type":"quantitative","scale":{"domain":[-100,50],"nice":false,"zero":false},"axis":{"title":null,"values":[-100,-50,0,50],"tickCount":20,"labelExpr":"'' + datum.value","labelOverlap":false,"minExtent":21}},"y2":{"field":"hi"}}},
{"mark":{"type":"tick","color":"#8c8c8c","size":9,"opacity":1},"encoding":{"y":{"field":"lo","type":"quantitative"}}},
{"mark":{"type":"tick","color":"#8c8c8c","size":9,"opacity":1},"encoding":{"y":{"field":"hi","type":"quantitative"}}},
{"mark":{"type":"bar","stroke":"#8c8c8c","strokeWidth":1},"encoding":{"y":{"field":"q1","type":"quantitative"},"y2":{"field":"q3"},"fill":{"field":"g","type":"nominal","scale":{"domain":["N","H"],"range":["#FDDB8C","#FA7E0B"]},"legend":null}}},
{"mark":{"type":"tick","size":20,"thickness":1.5,"opacity":1},"encoding":{"y":{"field":"md","type":"quantitative"},"color":{"field":"g","type":"nominal","scale":{"domain":["N","H"],"range":["#9A7530","#6E3503"]},"legend":null}}}]},
{"transform":[{"filter":"datum.v!=null"}],"mark":{"type":"point","filled":true,"size":20,"color":"#000","opacity":1},"encoding":{"y":{"field":"v","type":"quantitative"},"shape":{"field":"g","type":"nominal","scale":{"domain":["N","H"],"range":["circle","square"]},"legend":null}}},
{"transform":[{"filter":"datum.s!=null"}],"mark":{"type":"text","fontSize":11,"fontWeight":"bold","dy":4},"encoding":{"y":{"field":"sy","type":"quantitative"},"text":{"field":"s"}}}]},
{"width":70,"height":104,"title":{"text":"PI","offset":1},"data":{"name":"b"},"transform":[{"filter":"datum.p==='PI'"}],"encoding":{"x":{"field":"g","type":"nominal","sort":["N","H"],"axis":null,"scale":{"paddingInner":0.3333,"paddingOuter":0.3333,"align":0.5}}},"layer":[
{"transform":[{"filter":"datum.lo!=null"}],"layer":[
{"mark":{"type":"rule","color":"#8c8c8c"},"encoding":{"y":{"field":"lo","type":"quantitative","scale":{"domain":[-20,20],"nice":false,"zero":false},"axis":{"title":null,"values":[-20,-10,0,10,20],"tickCount":20,"labelExpr":"'' + datum.value","labelOverlap":false,"minExtent":26}},"y2":{"field":"hi"}}},
{"mark":{"type":"tick","color":"#8c8c8c","size":9,"opacity":1},"encoding":{"y":{"field":"lo","type":"quantitative"}}},
{"mark":{"type":"tick","color":"#8c8c8c","size":9,"opacity":1},"encoding":{"y":{"field":"hi","type":"quantitative"}}},
{"mark":{"type":"bar","stroke":"#8c8c8c","strokeWidth":1},"encoding":{"y":{"field":"q1","type":"quantitative"},"y2":{"field":"q3"},"fill":{"field":"g","type":"nominal","scale":{"domain":["N","H"],"range":["#FDDB8C","#FA7E0B"]},"legend":null}}},
{"mark":{"type":"tick","size":20,"thickness":1.5,"opacity":1},"encoding":{"y":{"field":"md","type":"quantitative"},"color":{"field":"g","type":"nominal","scale":{"domain":["N","H"],"range":["#9A7530","#6E3503"]},"legend":null}}}]},
{"transform":[{"filter":"datum.v!=null"}],"mark":{"type":"point","filled":true,"size":20,"color":"#000","opacity":1},"encoding":{"y":{"field":"v","type":"quantitative"},"shape":{"field":"g","type":"nominal","scale":{"domain":["N","H"],"range":["circle","square"]},"legend":null}}},
{"transform":[{"filter":"datum.s!=null"}],"mark":{"type":"text","fontSize":11,"fontWeight":"bold","dy":4},"encoding":{"y":{"field":"sy","type":"quantitative"},"text":{"field":"s"}}}]},
{"width":74,"height":104,"title":{"text":"TAG","offset":1},"data":{"name":"b"},"transform":[{"filter":"datum.p==='TAG'"}],"encoding":{"x":{"field":"g","type":"nominal","sort":["N","H"],"axis":null,"scale":{"paddingInner":0.3333,"paddingOuter":0.4,"align":0.583}}},"layer":[
{"transform":[{"filter":"datum.lo!=null"}],"layer":[
{"mark":{"type":"rule","color":"#8c8c8c"},"encoding":{"y":{"field":"lo","type":"quantitative","scale":{"domain":[-150,100],"nice":false,"zero":false},"axis":{"title":null,"values":[-150,-100,-50,0,50,100],"tickCount":20,"labelExpr":"'' + datum.value","labelOverlap":false,"minExtent":17}},"y2":{"field":"hi"}}},
{"mark":{"type":"tick","color":"#8c8c8c","size":9,"opacity":1},"encoding":{"y":{"field":"lo","type":"quantitative"}}},
{"mark":{"type":"tick","color":"#8c8c8c","size":9,"opacity":1},"encoding":{"y":{"field":"hi","type":"quantitative"}}},
{"mark":{"type":"bar","stroke":"#8c8c8c","strokeWidth":1},"encoding":{"y":{"field":"q1","type":"quantitative"},"y2":{"field":"q3"},"fill":{"field":"g","type":"nominal","scale":{"domain":["N","H"],"range":["#FDDB8C","#FA7E0B"]},"legend":null}}},
{"mark":{"type":"tick","size":20,"thickness":1.5,"opacity":1},"encoding":{"y":{"field":"md","type":"quantitative"},"color":{"field":"g","type":"nominal","scale":{"domain":["N","H"],"range":["#9A7530","#6E3503"]},"legend":null}}}]},
{"transform":[{"filter":"datum.v!=null"}],"mark":{"type":"point","filled":true,"size":20,"color":"#000","opacity":1},"encoding":{"y":{"field":"v","type":"quantitative"},"shape":{"field":"g","type":"nominal","scale":{"domain":["N","H"],"range":["circle","square"]},"legend":null}}},
{"transform":[{"filter":"datum.s!=null"}],"mark":{"type":"text","fontSize":11,"fontWeight":"bold","dy":4},"encoding":{"y":{"field":"sy","type":"quantitative"},"text":{"field":"s"}}}]},
{"width":70,"height":104,"title":{"text":"TAGe","offset":1},"data":{"name":"b"},"transform":[{"filter":"datum.p==='TAGe'"}],"encoding":{"x":{"field":"g","type":"nominal","sort":["N","H"],"axis":null,"scale":{"paddingInner":0.3333,"paddingOuter":0.3333,"align":0.5}}},"layer":[
{"transform":[{"filter":"datum.lo!=null"}],"layer":[
{"mark":{"type":"rule","color":"#8c8c8c"},"encoding":{"y":{"field":"lo","type":"quantitative","scale":{"domain":[-40,40],"nice":false,"zero":false},"axis":{"title":null,"values":[-40,-20,0,20,40],"tickCount":20,"labelExpr":"'' + datum.value","labelOverlap":false,"minExtent":24}},"y2":{"field":"hi"}}},
{"mark":{"type":"tick","color":"#8c8c8c","size":9,"opacity":1},"encoding":{"y":{"field":"lo","type":"quantitative"}}},
{"mark":{"type":"tick","color":"#8c8c8c","size":9,"opacity":1},"encoding":{"y":{"field":"hi","type":"quantitative"}}},
{"mark":{"type":"bar","stroke":"#8c8c8c","strokeWidth":1},"encoding":{"y":{"field":"q1","type":"quantitative"},"y2":{"field":"q3"},"fill":{"field":"g","type":"nominal","scale":{"domain":["N","H"],"range":["#FDDB8C","#FA7E0B"]},"legend":null}}},
{"mark":{"type":"tick","size":20,"thickness":1.5,"opacity":1},"encoding":{"y":{"field":"md","type":"quantitative"},"color":{"field":"g","type":"nominal","scale":{"domain":["N","H"],"range":["#9A7530","#6E3503"]},"legend":null}}}]},
{"transform":[{"filter":"datum.v!=null"}],"mark":{"type":"point","filled":true,"size":20,"color":"#000","opacity":1},"encoding":{"y":{"field":"v","type":"quantitative"},"shape":{"field":"g","type":"nominal","scale":{"domain":["N","H"],"range":["circle","square"]},"legend":null}}},
{"transform":[{"filter":"datum.s!=null"}],"mark":{"type":"text","fontSize":11,"fontWeight":"bold","dy":4},"encoding":{"y":{"field":"sy","type":"quantitative"},"text":{"field":"s"}}}]},
{"width":71,"height":104,"title":{"text":"DAG","offset":1},"data":{"name":"b"},"transform":[{"filter":"datum.p==='DAG'"}],"encoding":{"x":{"field":"g","type":"nominal","sort":["N","H"],"axis":null,"scale":{"paddingInner":0.3333,"paddingOuter":0.35,"align":0.5}}},"layer":[
{"transform":[{"filter":"datum.lo!=null"}],"layer":[
{"mark":{"type":"rule","color":"#8c8c8c"},"encoding":{"y":{"field":"lo","type":"quantitative","scale":{"domain":[-20,20],"nice":false,"zero":false},"axis":{"title":null,"values":[-20,-10,0,10,20],"tickCount":20,"labelExpr":"'' + datum.value","labelOverlap":false,"minExtent":22}},"y2":{"field":"hi"}}},
{"mark":{"type":"tick","color":"#8c8c8c","size":9,"opacity":1},"encoding":{"y":{"field":"lo","type":"quantitative"}}},
{"mark":{"type":"tick","color":"#8c8c8c","size":9,"opacity":1},"encoding":{"y":{"field":"hi","type":"quantitative"}}},
{"mark":{"type":"bar","stroke":"#8c8c8c","strokeWidth":1},"encoding":{"y":{"field":"q1","type":"quantitative"},"y2":{"field":"q3"},"fill":{"field":"g","type":"nominal","scale":{"domain":["N","H"],"range":["#FDDB8C","#FA7E0B"]},"legend":null}}},
{"mark":{"type":"tick","size":20,"thickness":1.5,"opacity":1},"encoding":{"y":{"field":"md","type":"quantitative"},"color":{"field":"g","type":"nominal","scale":{"domain":["N","H"],"range":["#9A7530","#6E3503"]},"legend":null}}}]},
{"transform":[{"filter":"datum.v!=null"}],"mark":{"type":"point","filled":true,"size":20,"color":"#000","opacity":1},"encoding":{"y":{"field":"v","type":"quantitative"},"shape":{"field":"g","type":"nominal","scale":{"domain":["N","H"],"range":["circle","square"]},"legend":null}}},
{"transform":[{"filter":"datum.s!=null"}],"mark":{"type":"text","fontSize":11,"fontWeight":"bold","dy":4},"encoding":{"y":{"field":"sy","type":"quantitative"},"text":{"field":"s"}}}]}
]},
{"spacing":0,
"hconcat":[
{"width":1,"height":1,"view":{"stroke":null},"data":{"values":[{}]},"transform":[{"filter":"false"}],"mark":{"type":"point","opacity":0}},
{"width":70,"height":104,"title":{"text":"FAs","offset":3.3},"data":{"name":"b"},"transform":[{"filter":"datum.p==='FAs'"}],"encoding":{"x":{"field":"g","type":"nominal","sort":["N","H"],"axis":null,"scale":{"paddingInner":0.3333,"paddingOuter":0.3333,"align":0.5}}},"layer":[
{"transform":[{"filter":"datum.lo!=null"}],"layer":[
{"mark":{"type":"rule","color":"#8c8c8c"},"encoding":{"y":{"field":"lo","type":"quantitative","scale":{"domain":[-40,40],"nice":false,"zero":false},"axis":{"title":"Intensity","values":[-40,-20,0,20,40],"tickCount":20,"labelExpr":"'' + datum.value","labelOverlap":false,"minExtent":16,"maxExtent":16}},"y2":{"field":"hi"}}},
{"mark":{"type":"tick","color":"#8c8c8c","size":9,"opacity":1},"encoding":{"y":{"field":"lo","type":"quantitative"}}},
{"mark":{"type":"tick","color":"#8c8c8c","size":9,"opacity":1},"encoding":{"y":{"field":"hi","type":"quantitative"}}},
{"mark":{"type":"bar","stroke":"#8c8c8c","strokeWidth":1},"encoding":{"y":{"field":"q1","type":"quantitative"},"y2":{"field":"q3"},"fill":{"field":"g","type":"nominal","scale":{"domain":["N","H"],"range":["#FDDB8C","#FA7E0B"]},"legend":null}}},
{"mark":{"type":"tick","size":20,"thickness":1.5,"opacity":1},"encoding":{"y":{"field":"md","type":"quantitative"},"color":{"field":"g","type":"nominal","scale":{"domain":["N","H"],"range":["#9A7530","#6E3503"]},"legend":null}}}]},
{"transform":[{"filter":"datum.v!=null"}],"mark":{"type":"point","filled":true,"size":20,"color":"#000","opacity":1},"encoding":{"y":{"field":"v","type":"quantitative"},"shape":{"field":"g","type":"nominal","scale":{"domain":["N","H"],"range":["circle","square"]},"legend":null}}},
{"transform":[{"filter":"datum.s!=null"}],"mark":{"type":"text","fontSize":11,"fontWeight":"bold","dy":4},"encoding":{"y":{"field":"sy","type":"quantitative"},"text":{"field":"s"}}}]},
{"width":71,"height":104,"title":{"text":"MUFAs","offset":3.3},"data":{"name":"b"},"transform":[{"filter":"datum.p==='MUFAs'"}],"encoding":{"x":{"field":"g","type":"nominal","sort":["N","H"],"axis":null,"scale":{"paddingInner":0.3333,"paddingOuter":0.35,"align":0.5}}},"layer":[
{"transform":[{"filter":"datum.lo!=null"}],"layer":[
{"mark":{"type":"rule","color":"#8c8c8c"},"encoding":{"y":{"field":"lo","type":"quantitative","scale":{"domain":[-100,100],"nice":false,"zero":false},"axis":{"title":null,"values":[-100,-50,0,50,100],"tickCount":20,"labelExpr":"'' + datum.value","labelOverlap":false,"minExtent":24}},"y2":{"field":"hi"}}},
{"mark":{"type":"tick","color":"#8c8c8c","size":9,"opacity":1},"encoding":{"y":{"field":"lo","type":"quantitative"}}},
{"mark":{"type":"tick","color":"#8c8c8c","size":9,"opacity":1},"encoding":{"y":{"field":"hi","type":"quantitative"}}},
{"mark":{"type":"bar","stroke":"#8c8c8c","strokeWidth":1},"encoding":{"y":{"field":"q1","type":"quantitative"},"y2":{"field":"q3"},"fill":{"field":"g","type":"nominal","scale":{"domain":["N","H"],"range":["#FDDB8C","#FA7E0B"]},"legend":null}}},
{"mark":{"type":"tick","size":20,"thickness":1.5,"opacity":1},"encoding":{"y":{"field":"md","type":"quantitative"},"color":{"field":"g","type":"nominal","scale":{"domain":["N","H"],"range":["#9A7530","#6E3503"]},"legend":null}}}]},
{"transform":[{"filter":"datum.v!=null"}],"mark":{"type":"point","filled":true,"size":20,"color":"#000","opacity":1},"encoding":{"y":{"field":"v","type":"quantitative"},"shape":{"field":"g","type":"nominal","scale":{"domain":["N","H"],"range":["circle","square"]},"legend":null}}},
{"transform":[{"filter":"datum.s!=null"}],"mark":{"type":"text","fontSize":11,"fontWeight":"bold","dy":4},"encoding":{"y":{"field":"sy","type":"quantitative"},"text":{"field":"s"}}}]},
{"width":70,"height":104,"title":{"text":"PUFAs","offset":3.3},"data":{"name":"b"},"transform":[{"filter":"datum.p==='PUFAs'"}],"encoding":{"x":{"field":"g","type":"nominal","sort":["N","H"],"axis":null,"scale":{"paddingInner":0.3333,"paddingOuter":0.3333,"align":0.5}}},"layer":[
{"transform":[{"filter":"datum.lo!=null"}],"layer":[
{"mark":{"type":"rule","color":"#8c8c8c"},"encoding":{"y":{"field":"lo","type":"quantitative","scale":{"domain":[-200,200],"nice":false,"zero":false},"axis":{"title":null,"values":[-200,-100,0,100,200],"tickCount":20,"labelExpr":"'' + datum.value","labelOverlap":false,"minExtent":21}},"y2":{"field":"hi"}}},
{"mark":{"type":"tick","color":"#8c8c8c","size":9,"opacity":1},"encoding":{"y":{"field":"lo","type":"quantitative"}}},
{"mark":{"type":"tick","color":"#8c8c8c","size":9,"opacity":1},"encoding":{"y":{"field":"hi","type":"quantitative"}}},
{"mark":{"type":"bar","stroke":"#8c8c8c","strokeWidth":1},"encoding":{"y":{"field":"q1","type":"quantitative"},"y2":{"field":"q3"},"fill":{"field":"g","type":"nominal","scale":{"domain":["N","H"],"range":["#FDDB8C","#FA7E0B"]},"legend":null}}},
{"mark":{"type":"tick","size":20,"thickness":1.5,"opacity":1},"encoding":{"y":{"field":"md","type":"quantitative"},"color":{"field":"g","type":"nominal","scale":{"domain":["N","H"],"range":["#9A7530","#6E3503"]},"legend":null}}}]},
{"transform":[{"filter":"datum.v!=null"}],"mark":{"type":"point","filled":true,"size":20,"color":"#000","opacity":1},"encoding":{"y":{"field":"v","type":"quantitative"},"shape":{"field":"g","type":"nominal","scale":{"domain":["N","H"],"range":["circle","square"]},"legend":null}}},
{"transform":[{"filter":"datum.s!=null"}],"mark":{"type":"text","fontSize":11,"fontWeight":"bold","dy":4},"encoding":{"y":{"field":"sy","type":"quantitative"},"text":{"field":"s"}}}]}
]}
]}
]}
]},
{"spacing":0,"title":{"text":"D","anchor":"start","frame":"bounds","fontSize":14,"offset":-13,"dx":9},
"hconcat":[
{"width":1,"height":1,"view":{"stroke":null},"data":{"values":[{}]},"transform":[{"filter":"false"}],"mark":{"type":"point","opacity":0}},
{"width":69,"height":103,"title":{"text":"ACar","offset":7},"data":{"name":"d"},"transform":[{"filter":"datum.p==='ACar'"}],"encoding":{"x":{"field":"g","type":"nominal","sort":["N","H"],"axis":null,"scale":{"paddingInner":0.3333,"paddingOuter":0.3167,"align":0.5}}},"layer":[
{"transform":[{"filter":"datum.lo!=null"}],"layer":[
{"mark":{"type":"rule","color":"#8c8c8c"},"encoding":{"y":{"field":"lo","type":"quantitative","scale":{"domain":[-40,80],"nice":false,"zero":false},"axis":{"title":"Intensity","values":[-40,-20,0,20,40,60,80],"tickCount":20,"labelExpr":"'' + datum.value","labelOverlap":false,"minExtent":16,"maxExtent":16}},"y2":{"field":"hi"}}},
{"mark":{"type":"tick","color":"#8c8c8c","size":9,"opacity":1},"encoding":{"y":{"field":"lo","type":"quantitative"}}},
{"mark":{"type":"tick","color":"#8c8c8c","size":9,"opacity":1},"encoding":{"y":{"field":"hi","type":"quantitative"}}},
{"mark":{"type":"bar","stroke":"#8c8c8c","strokeWidth":1},"encoding":{"y":{"field":"q1","type":"quantitative"},"y2":{"field":"q3"},"fill":{"field":"g","type":"nominal","scale":{"domain":["N","H"],"range":["#A8DBA6","#128512"]},"legend":null}}},
{"mark":{"type":"tick","size":20,"thickness":1.5,"opacity":1},"encoding":{"y":{"field":"md","type":"quantitative"},"color":{"field":"g","type":"nominal","scale":{"domain":["N","H"],"range":["#587858","#0A3A0A"]},"legend":null}}}]},
{"transform":[{"filter":"datum.v!=null"}],"mark":{"type":"point","filled":true,"size":26,"color":"#000","opacity":1},"encoding":{"y":{"field":"v","type":"quantitative"},"shape":{"field":"g","type":"nominal","scale":{"domain":["N","H"],"range":["circle","square"]},"legend":null}}},
{"transform":[{"filter":"datum.s!=null"}],"mark":{"type":"text","fontSize":16,"fontWeight":"bold","dy":6},"encoding":{"y":{"field":"sy","type":"quantitative"},"text":{"field":"s"}}}]},
{"width":71,"height":103,"title":{"text":"PC","offset":7},"data":{"name":"d"},"transform":[{"filter":"datum.p==='PC'"}],"encoding":{"x":{"field":"g","type":"nominal","sort":["N","H"],"axis":null,"scale":{"paddingInner":0.3333,"paddingOuter":0.35,"align":0.5}}},"layer":[
{"transform":[{"filter":"datum.lo!=null"}],"layer":[
{"mark":{"type":"rule","color":"#8c8c8c"},"encoding":{"y":{"field":"lo","type":"quantitative","scale":{"domain":[-60,60],"nice":false,"zero":false},"axis":{"title":null,"values":[-60,-40,-20,0,20,40,60],"tickCount":20,"labelExpr":"'' + datum.value","labelOverlap":false,"minExtent":22}},"y2":{"field":"hi"}}},
{"mark":{"type":"tick","color":"#8c8c8c","size":9,"opacity":1},"encoding":{"y":{"field":"lo","type":"quantitative"}}},
{"mark":{"type":"tick","color":"#8c8c8c","size":9,"opacity":1},"encoding":{"y":{"field":"hi","type":"quantitative"}}},
{"mark":{"type":"bar","stroke":"#8c8c8c","strokeWidth":1},"encoding":{"y":{"field":"q1","type":"quantitative"},"y2":{"field":"q3"},"fill":{"field":"g","type":"nominal","scale":{"domain":["N","H"],"range":["#A8DBA6","#128512"]},"legend":null}}},
{"mark":{"type":"tick","size":20,"thickness":1.5,"opacity":1},"encoding":{"y":{"field":"md","type":"quantitative"},"color":{"field":"g","type":"nominal","scale":{"domain":["N","H"],"range":["#587858","#0A3A0A"]},"legend":null}}}]},
{"transform":[{"filter":"datum.v!=null"}],"mark":{"type":"point","filled":true,"size":26,"color":"#000","opacity":1},"encoding":{"y":{"field":"v","type":"quantitative"},"shape":{"field":"g","type":"nominal","scale":{"domain":["N","H"],"range":["circle","square"]},"legend":null}}},
{"transform":[{"filter":"datum.s!=null"}],"mark":{"type":"text","fontSize":16,"fontWeight":"bold","dy":6},"encoding":{"y":{"field":"sy","type":"quantitative"},"text":{"field":"s"}}}]},
{"width":72,"height":103,"title":{"text":"PE","offset":7},"data":{"name":"d"},"transform":[{"filter":"datum.p==='PE'"}],"encoding":{"x":{"field":"g","type":"nominal","sort":["N","H"],"axis":null,"scale":{"paddingInner":0.3333,"paddingOuter":0.3667,"align":0.5}}},"layer":[
{"transform":[{"filter":"datum.lo!=null"}],"layer":[
{"mark":{"type":"rule","color":"#8c8c8c"},"encoding":{"y":{"field":"lo","type":"quantitative","scale":{"domain":[-15,15],"nice":false,"zero":false},"axis":{"title":null,"values":[-15,-10,-5,0,5,10,15],"tickCount":20,"labelExpr":"'' + datum.value","labelOverlap":false,"minExtent":22}},"y2":{"field":"hi"}}},
{"mark":{"type":"tick","color":"#8c8c8c","size":9,"opacity":1},"encoding":{"y":{"field":"lo","type":"quantitative"}}},
{"mark":{"type":"tick","color":"#8c8c8c","size":9,"opacity":1},"encoding":{"y":{"field":"hi","type":"quantitative"}}},
{"mark":{"type":"bar","stroke":"#8c8c8c","strokeWidth":1},"encoding":{"y":{"field":"q1","type":"quantitative"},"y2":{"field":"q3"},"fill":{"field":"g","type":"nominal","scale":{"domain":["N","H"],"range":["#A8DBA6","#128512"]},"legend":null}}},
{"mark":{"type":"tick","size":20,"thickness":1.5,"opacity":1},"encoding":{"y":{"field":"md","type":"quantitative"},"color":{"field":"g","type":"nominal","scale":{"domain":["N","H"],"range":["#587858","#0A3A0A"]},"legend":null}}}]},
{"transform":[{"filter":"datum.v!=null"}],"mark":{"type":"point","filled":true,"size":26,"color":"#000","opacity":1},"encoding":{"y":{"field":"v","type":"quantitative"},"shape":{"field":"g","type":"nominal","scale":{"domain":["N","H"],"range":["circle","square"]},"legend":null}}},
{"transform":[{"filter":"datum.s!=null"}],"mark":{"type":"text","fontSize":16,"fontWeight":"bold","dy":6},"encoding":{"y":{"field":"sy","type":"quantitative"},"text":{"field":"s"}}}]},
{"width":77,"height":103,"title":{"text":"TAG","offset":7},"data":{"name":"d"},"transform":[{"filter":"datum.p==='TAG'"}],"encoding":{"x":{"field":"g","type":"nominal","sort":["N","H"],"axis":null,"scale":{"paddingInner":0.3333,"paddingOuter":0.45,"align":0.62}}},"layer":[
{"transform":[{"filter":"datum.lo!=null"}],"layer":[
{"mark":{"type":"rule","color":"#8c8c8c"},"encoding":{"y":{"field":"lo","type":"quantitative","scale":{"domain":[-20,30],"nice":false,"zero":false},"axis":{"title":null,"values":[-20,-10,0,10,20,30],"tickCount":20,"labelExpr":"'' + datum.value","labelOverlap":false,"minExtent":17}},"y2":{"field":"hi"}}},
{"mark":{"type":"tick","color":"#8c8c8c","size":9,"opacity":1},"encoding":{"y":{"field":"lo","type":"quantitative"}}},
{"mark":{"type":"tick","color":"#8c8c8c","size":9,"opacity":1},"encoding":{"y":{"field":"hi","type":"quantitative"}}},
{"mark":{"type":"bar","stroke":"#8c8c8c","strokeWidth":1},"encoding":{"y":{"field":"q1","type":"quantitative"},"y2":{"field":"q3"},"fill":{"field":"g","type":"nominal","scale":{"domain":["N","H"],"range":["#A8DBA6","#128512"]},"legend":null}}},
{"mark":{"type":"tick","size":20,"thickness":1.5,"opacity":1},"encoding":{"y":{"field":"md","type":"quantitative"},"color":{"field":"g","type":"nominal","scale":{"domain":["N","H"],"range":["#587858","#0A3A0A"]},"legend":null}}}]},
{"transform":[{"filter":"datum.v!=null"}],"mark":{"type":"point","filled":true,"size":26,"color":"#000","opacity":1},"encoding":{"y":{"field":"v","type":"quantitative"},"shape":{"field":"g","type":"nominal","scale":{"domain":["N","H"],"range":["circle","square"]},"legend":null}}},
{"transform":[{"filter":"datum.s!=null"}],"mark":{"type":"text","fontSize":16,"fontWeight":"bold","dy":6},"encoding":{"y":{"field":"sy","type":"quantitative"},"text":{"field":"s"}}}]},
{"width":79,"height":103,"title":{"text":"S1P","offset":7},"data":{"name":"d"},"transform":[{"filter":"datum.p==='S1P'"}],"encoding":{"x":{"field":"g","type":"nominal","sort":["N","H"],"axis":null,"scale":{"paddingInner":0.3333,"paddingOuter":0.4833,"align":0.69}}},"layer":[
{"transform":[{"filter":"datum.lo!=null"}],"layer":[
{"mark":{"type":"rule","color":"#8c8c8c"},"encoding":{"y":{"field":"lo","type":"quantitative","scale":{"domain":[-4,4],"nice":false,"zero":false},"axis":{"title":null,"values":[-4,-2,0,2,4],"tickCount":20,"labelExpr":"'' + datum.value","labelOverlap":false,"minExtent":12}},"y2":{"field":"hi"}}},
{"mark":{"type":"tick","color":"#8c8c8c","size":9,"opacity":1},"encoding":{"y":{"field":"lo","type":"quantitative"}}},
{"mark":{"type":"tick","color":"#8c8c8c","size":9,"opacity":1},"encoding":{"y":{"field":"hi","type":"quantitative"}}},
{"mark":{"type":"bar","stroke":"#8c8c8c","strokeWidth":1},"encoding":{"y":{"field":"q1","type":"quantitative"},"y2":{"field":"q3"},"fill":{"field":"g","type":"nominal","scale":{"domain":["N","H"],"range":["#A8DBA6","#128512"]},"legend":null}}},
{"mark":{"type":"tick","size":20,"thickness":1.5,"opacity":1},"encoding":{"y":{"field":"md","type":"quantitative"},"color":{"field":"g","type":"nominal","scale":{"domain":["N","H"],"range":["#587858","#0A3A0A"]},"legend":null}}}]},
{"transform":[{"filter":"datum.v!=null"}],"mark":{"type":"point","filled":true,"size":26,"color":"#000","opacity":1},"encoding":{"y":{"field":"v","type":"quantitative"},"shape":{"field":"g","type":"nominal","scale":{"domain":["N","H"],"range":["circle","square"]},"legend":null}}},
{"transform":[{"filter":"datum.s!=null"}],"mark":{"type":"text","fontSize":16,"fontWeight":"bold","dy":6},"encoding":{"y":{"field":"sy","type":"quantitative"},"text":{"field":"s"}}}]},
{"width":72,"height":103,"title":{"text":"GlcSph","offset":7},"data":{"name":"d"},"transform":[{"filter":"datum.p==='GlcSph'"}],"encoding":{"x":{"field":"g","type":"nominal","sort":["N","H"],"axis":null,"scale":{"paddingInner":0.3333,"paddingOuter":0.3667,"align":0.59}}},"layer":[
{"transform":[{"filter":"datum.lo!=null"}],"layer":[
{"mark":{"type":"rule","color":"#8c8c8c"},"encoding":{"y":{"field":"lo","type":"quantitative","scale":{"domain":[-15,15],"nice":false,"zero":false},"axis":{"title":null,"values":[-15,-10,-5,0,5,10,15],"tickCount":20,"labelExpr":"'' + datum.value","labelOverlap":false,"minExtent":20}},"y2":{"field":"hi"}}},
{"mark":{"type":"tick","color":"#8c8c8c","size":9,"opacity":1},"encoding":{"y":{"field":"lo","type":"quantitative"}}},
{"mark":{"type":"tick","color":"#8c8c8c","size":9,"opacity":1},"encoding":{"y":{"field":"hi","type":"quantitative"}}},
{"mark":{"type":"bar","stroke":"#8c8c8c","strokeWidth":1},"encoding":{"y":{"field":"q1","type":"quantitative"},"y2":{"field":"q3"},"fill":{"field":"g","type":"nominal","scale":{"domain":["N","H"],"range":["#A8DBA6","#128512"]},"legend":null}}},
{"mark":{"type":"tick","size":20,"thickness":1.5,"opacity":1},"encoding":{"y":{"field":"md","type":"quantitative"},"color":{"field":"g","type":"nominal","scale":{"domain":["N","H"],"range":["#587858","#0A3A0A"]},"legend":null}}}]},
{"transform":[{"filter":"datum.v!=null"}],"mark":{"type":"point","filled":true,"size":26,"color":"#000","opacity":1},"encoding":{"y":{"field":"v","type":"quantitative"},"shape":{"field":"g","type":"nominal","scale":{"domain":["N","H"],"range":["circle","square"]},"legend":null}}},
{"transform":[{"filter":"datum.s!=null"}],"mark":{"type":"text","fontSize":16,"fontWeight":"bold","dy":6},"encoding":{"y":{"field":"sy","type":"quantitative"},"text":{"field":"s"}}}]},
{"width":71,"height":103,"title":{"text":"PCe","offset":7},"data":{"name":"d"},"transform":[{"filter":"datum.p==='PCe'"}],"encoding":{"x":{"field":"g","type":"nominal","sort":["N","H"],"axis":null,"scale":{"paddingInner":0.3333,"paddingOuter":0.35,"align":0.57}}},"layer":[
{"transform":[{"filter":"datum.lo!=null"}],"layer":[
{"mark":{"type":"rule","color":"#8c8c8c"},"encoding":{"y":{"field":"lo","type":"quantitative","scale":{"domain":[-50,100],"nice":false,"zero":false},"axis":{"title":null,"values":[-50,0,50,100],"tickCount":20,"labelExpr":"'' + datum.value","labelOverlap":false,"minExtent":23}},"y2":{"field":"hi"}}},
{"mark":{"type":"tick","color":"#8c8c8c","size":9,"opacity":1},"encoding":{"y":{"field":"lo","type":"quantitative"}}},
{"mark":{"type":"tick","color":"#8c8c8c","size":9,"opacity":1},"encoding":{"y":{"field":"hi","type":"quantitative"}}},
{"mark":{"type":"bar","stroke":"#8c8c8c","strokeWidth":1},"encoding":{"y":{"field":"q1","type":"quantitative"},"y2":{"field":"q3"},"fill":{"field":"g","type":"nominal","scale":{"domain":["N","H"],"range":["#A8DBA6","#128512"]},"legend":null}}},
{"mark":{"type":"tick","size":20,"thickness":1.5,"opacity":1},"encoding":{"y":{"field":"md","type":"quantitative"},"color":{"field":"g","type":"nominal","scale":{"domain":["N","H"],"range":["#587858","#0A3A0A"]},"legend":null}}}]},
{"transform":[{"filter":"datum.v!=null"}],"mark":{"type":"point","filled":true,"size":26,"color":"#000","opacity":1},"encoding":{"y":{"field":"v","type":"quantitative"},"shape":{"field":"g","type":"nominal","scale":{"domain":["N","H"],"range":["circle","square"]},"legend":null}}},
{"transform":[{"filter":"datum.s!=null"}],"mark":{"type":"text","fontSize":16,"fontWeight":"bold","dy":6},"encoding":{"y":{"field":"sy","type":"quantitative"},"text":{"field":"s"}}}]}
]}
]
}
